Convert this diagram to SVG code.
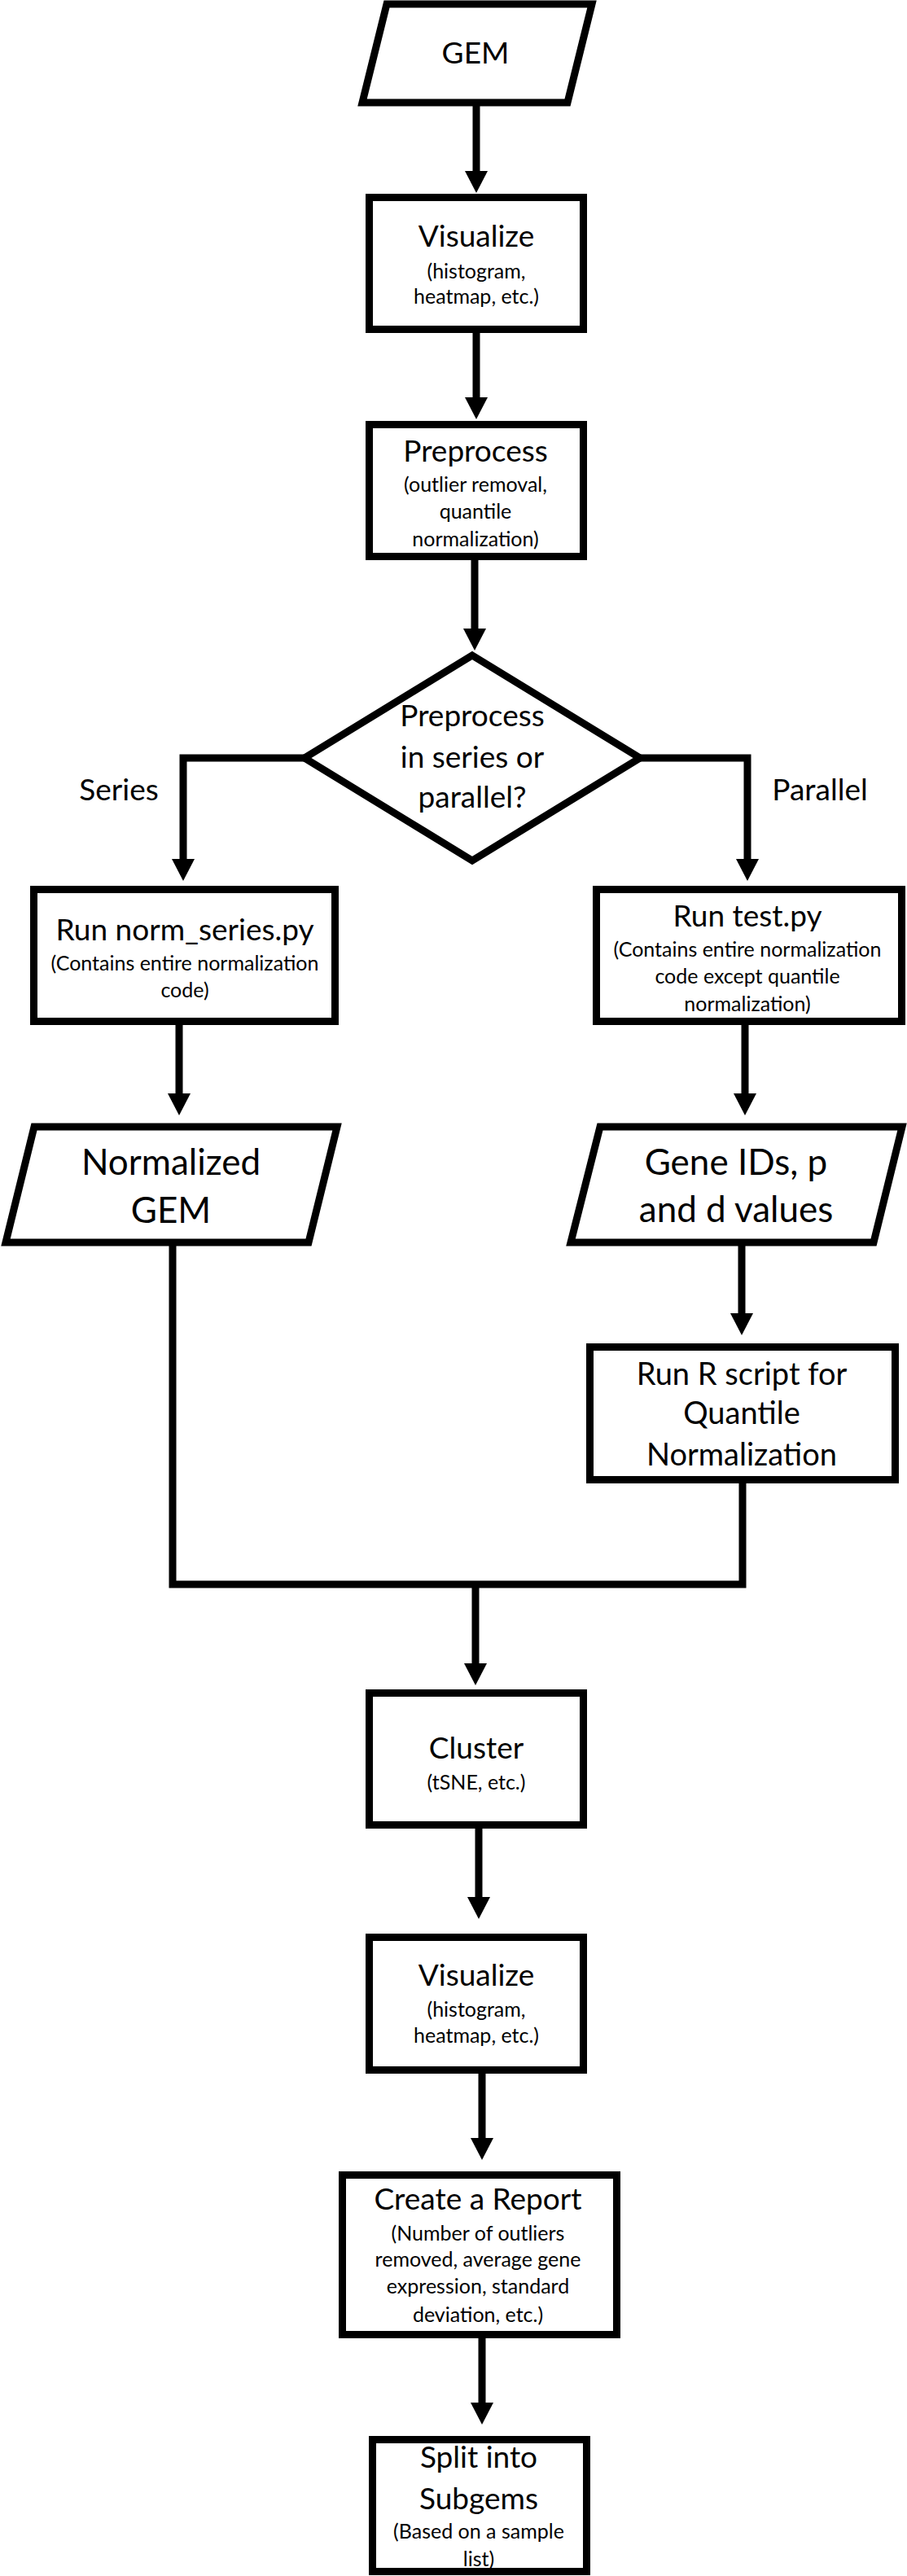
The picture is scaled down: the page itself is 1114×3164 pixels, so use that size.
<svg xmlns="http://www.w3.org/2000/svg" width="1114" height="3164" viewBox="0 0 1114 3164">
<defs>
<marker id="ah" markerUnits="userSpaceOnUse" markerWidth="28" markerHeight="28" viewBox="0 0 28 28" refX="0" refY="14" orient="auto">
<path d="M0,0 L27,14 L0,28 z" fill="#000"/>
</marker>
<style>
.shape{fill:#fff;stroke:#000;stroke-width:9;stroke-linejoin:miter}
.conn{fill:none;stroke:#000;stroke-width:9;stroke-linejoin:miter}
.arr{marker-end:url(#ah)}
text{font-family:Lato,"Open Sans","Liberation Sans",sans-serif;fill:#000;text-anchor:middle}
.t{font-size:37px}
.s{font-size:25px}
.b{font-size:44px}
.m{font-size:38px}
</style>
</defs>
<rect width="1114" height="3164" fill="#fff"/>
<g id="connectors">
<line class="conn arr" x1="585" y1="130" x2="585" y2="210"/>
<line class="conn arr" x1="585" y1="409" x2="585" y2="488"/>
<line class="conn arr" x1="583" y1="688" x2="583" y2="772"/>
<polyline class="conn arr" points="376,931 225,931 225,1055"/>
<polyline class="conn arr" points="786,931 918,931 918,1055"/>
<line class="conn arr" x1="220" y1="1259" x2="220" y2="1343"/>
<line class="conn arr" x1="915" y1="1259" x2="915" y2="1343"/>
<line class="conn arr" x1="911" y1="1530" x2="911" y2="1613"/>
<polyline class="conn" points="212,1530 212,1946 912,1946 912,1822"/>
<line class="conn arr" x1="584" y1="1946" x2="584" y2="2043"/>
<line class="conn arr" x1="588" y1="2246" x2="588" y2="2330"/>
<line class="conn arr" x1="592" y1="2547" x2="592" y2="2626"/>
<line class="conn arr" x1="592" y1="2872" x2="592" y2="2951"/>
<text class="t" x="146" y="983">Series</text>
<text class="t" x="1007" y="983">Parallel</text>
</g>
<g id="gem">
<polygon class="shape" points="475,5 727,5 697,126 445,126"/>
<text class="t" x="584" y="78">GEM</text>
</g>
<g id="visualize1">
<rect class="shape" x="453.5" y="242.5" width="263" height="162"/>
<text class="t" x="585" y="303">Visualize</text>
<text class="s" x="585" y="342">(histogram,</text>
<text class="s" x="585" y="373">heatmap, etc.)</text>
</g>
<g id="preprocess">
<rect class="shape" x="453.5" y="521.5" width="263" height="162"/>
<text class="t" x="584" y="567">Preprocess</text>
<text class="s" x="584" y="604">(outlier removal,</text>
<text class="s" x="584" y="637">quantile</text>
<text class="s" x="584" y="671">normalization)</text>
</g>
<g id="decision">
<polygon class="shape" points="580,805 786,931 580,1057 374,931"/>
<text class="t" x="580" y="892">Preprocess</text>
<text class="t" x="580" y="943">in series or</text>
<text class="t" x="580" y="992">parallel?</text>
</g>
<g id="norm_series">
<rect class="shape" x="41.5" y="1092.5" width="370" height="162"/>
<text class="t" x="227" y="1155">Run norm_series.py</text>
<text class="s" x="227" y="1192">(Contains entire normalization</text>
<text class="s" x="227" y="1225">code)</text>
</g>
<g id="test_py">
<rect class="shape" x="732.5" y="1092.5" width="375" height="162"/>
<text class="t" x="918" y="1138">Run test.py</text>
<text class="s" x="918" y="1175">(Contains entire normalization</text>
<text class="s" x="918" y="1208">code except quantile</text>
<text class="s" x="918" y="1242">normalization)</text>
</g>
<g id="normalized_gem">
<polygon class="shape" points="42,1384 414,1384 379,1526 7,1526"/>
<text class="b" x="210" y="1443">Normalized</text>
<text class="b" x="210" y="1502">GEM</text>
</g>
<g id="gene_ids">
<polygon class="shape" points="737,1384 1108,1384 1073,1526 701,1526"/>
<text class="b" x="904" y="1443">Gene IDs, p</text>
<text class="b" x="904" y="1501">and d values</text>
</g>
<g id="r_script">
<rect class="shape" x="724.5" y="1654.5" width="375" height="163"/>
<text class="m" x="911" y="1701">Run R script for</text>
<text class="m" x="911" y="1749">Quantile</text>
<text class="m" x="911" y="1800">Normalization</text>
</g>
<g id="cluster">
<rect class="shape" x="453.5" y="2079.5" width="263" height="162"/>
<text class="t" x="585" y="2160">Cluster</text>
<text class="s" x="585" y="2198">(tSNE, etc.)</text>
</g>
<g id="visualize2">
<rect class="shape" x="453.5" y="2379.5" width="263" height="163"/>
<text class="t" x="585" y="2439">Visualize</text>
<text class="s" x="585" y="2477">(histogram,</text>
<text class="s" x="585" y="2509">heatmap, etc.)</text>
</g>
<g id="report">
<rect class="shape" x="420.5" y="2671.5" width="337" height="196"/>
<text class="t" x="587" y="2714">Create a Report</text>
<text class="s" x="587" y="2752">(Number of outliers</text>
<text class="s" x="587" y="2784">removed, average gene</text>
<text class="s" x="587" y="2817">expression, standard</text>
<text class="s" x="587" y="2852">deviation, etc.)</text>
</g>
<g id="split">
<rect class="shape" x="457.5" y="2996.5" width="263" height="162"/>
<text class="t" x="588" y="3031">Split into</text>
<text class="t" x="588" y="3082">Subgems</text>
<text class="s" x="588" y="3118">(Based on a sample</text>
<text class="s" x="588" y="3152">list)</text>
</g>
</svg>
